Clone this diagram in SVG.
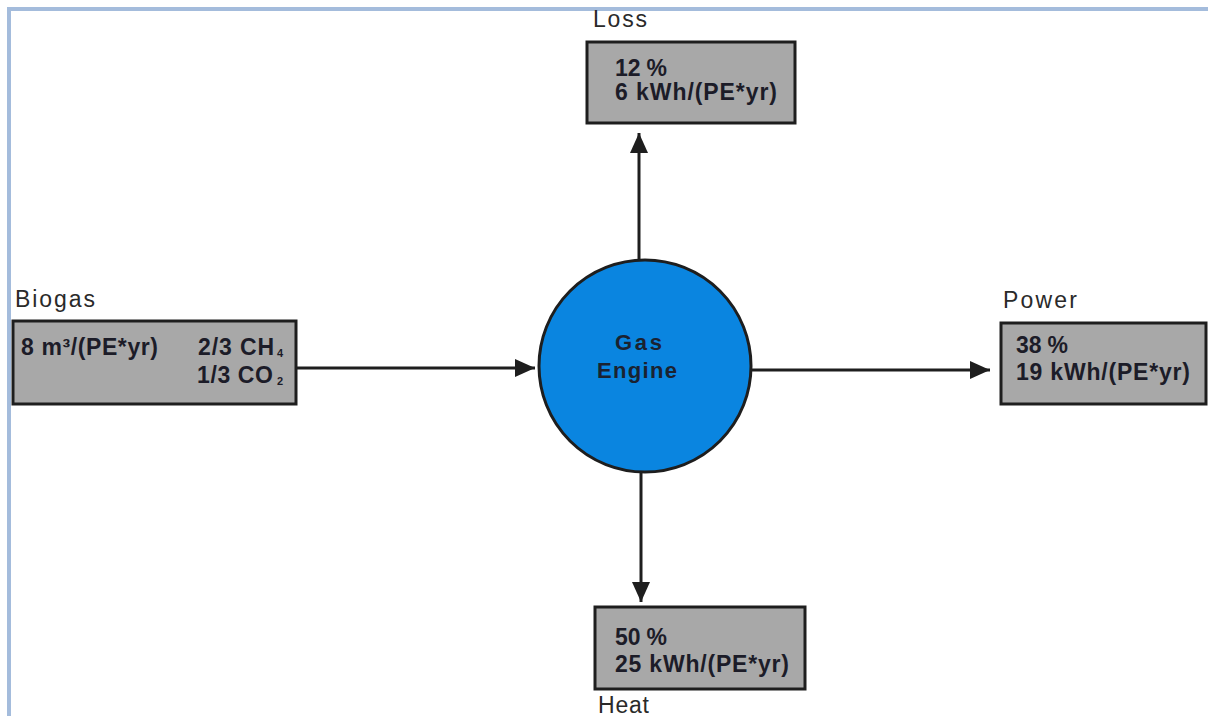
<svg xmlns="http://www.w3.org/2000/svg" width="1208" height="716" viewBox="0 0 1208 716">
<style>
.box{fill:#a8a8a8;stroke:#1e1e1e;stroke-width:3}
.bt{font-family:"Liberation Sans",Arial,sans-serif;font-size:23px;font-weight:bold;fill:#1c1c28}
.lbl{font-family:"Liberation Sans",Arial,sans-serif;font-size:23px;fill:#2a2a2a}
.eng{font-family:"Liberation Sans",Arial,sans-serif;font-size:22px;font-weight:bold;fill:#1a2230}
.sub{font-family:"Liberation Sans",Arial,sans-serif;font-size:11px;font-weight:bold;fill:#1c1c28}
.con{stroke:#1e1e1e;stroke-width:3;fill:none}
</style>
<defs>
<marker id="ah" viewBox="0 0 20 20" refX="20" refY="10" markerWidth="20" markerHeight="20" markerUnits="userSpaceOnUse" orient="auto">
<path d="M0,1 L20,10 L0,19 Z" fill="#1e1e1e"/>
</marker>
</defs>
<rect width="1208" height="716" fill="#ffffff"/>
<path d="M9,716 V9 H1208" fill="none" stroke="#a4bcdc" stroke-width="4"/>
<g id="connectors">
<line class="con" x1="296" y1="368" x2="535" y2="368" marker-end="url(#ah)"/>
<line class="con" x1="639" y1="262" x2="639" y2="133" marker-end="url(#ah)"/>
<line class="con" x1="752" y1="370" x2="990" y2="370" marker-end="url(#ah)"/>
<line class="con" x1="641" y1="470" x2="641" y2="602" marker-end="url(#ah)"/>
</g>
<g id="engine">
<circle cx="645" cy="366" r="106" fill="#0a85e0" stroke="#1e1e1e" stroke-width="3"/>
<text class="eng" x="615" y="350" textLength="47" lengthAdjust="spacing">Gas</text>
<text class="eng" x="597" y="378" textLength="80" lengthAdjust="spacing">Engine</text>
</g>
<g id="biogas">
<text class="lbl" x="15" y="307" textLength="80" lengthAdjust="spacing">Biogas</text>
<rect class="box" x="13" y="321" width="283" height="83"/>
<text class="bt" x="21" y="355" textLength="137" lengthAdjust="spacing">8 m³/(PE*yr)</text>
<text class="bt" x="198" y="355" textLength="76" lengthAdjust="spacing">2/3 CH</text>
<text class="sub" x="277" y="357">4</text>
<text class="bt" x="197" y="383" textLength="76" lengthAdjust="spacing">1/3 CO</text>
<text class="sub" x="277" y="385">2</text>
</g>
<g id="loss">
<text class="lbl" x="593" y="27" textLength="54" lengthAdjust="spacing">Loss</text>
<rect class="box" x="587" y="42" width="208" height="81"/>
<text class="bt" x="615" y="76" textLength="52" lengthAdjust="spacing">12 %</text>
<text class="bt" x="615" y="100" textLength="162" lengthAdjust="spacing">6 kWh/(PE*yr)</text>
</g>
<g id="power">
<text class="lbl" x="1003" y="308" textLength="74" lengthAdjust="spacing">Power</text>
<rect class="box" x="1001" y="323" width="205" height="81"/>
<text class="bt" x="1016" y="353" textLength="52" lengthAdjust="spacing">38 %</text>
<text class="bt" x="1016" y="380" textLength="174" lengthAdjust="spacing">19 kWh/(PE*yr)</text>
</g>
<g id="heat">
<rect class="box" x="595" y="607" width="210" height="82"/>
<text class="bt" x="615" y="645" textLength="52" lengthAdjust="spacing">50 %</text>
<text class="bt" x="615" y="672" textLength="174" lengthAdjust="spacing">25 kWh/(PE*yr)</text>
<text class="lbl" x="598" y="713" textLength="51" lengthAdjust="spacing">Heat</text>
</g>
</svg>
